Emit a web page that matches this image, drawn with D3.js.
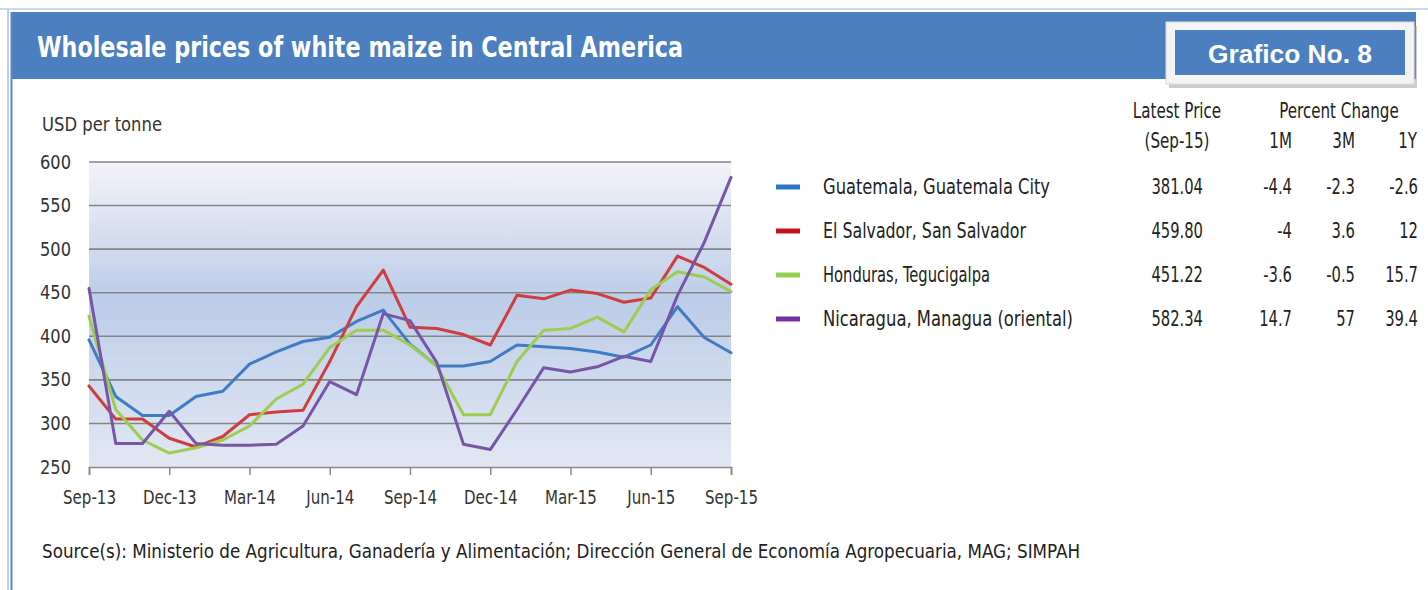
<!DOCTYPE html>
<html>
<head>
<meta charset="utf-8">
<script src="https://cdn.jsdelivr.net/npm/d3@7"></script>
<style>
  html, body { margin: 0; padding: 0; background: #ffffff; }
  svg { display: block; }
  text { font-family: "Liberation Sans Narrow", "DejaVu Sans Condensed", "Roboto", sans-serif; }
</style>
</head>
<body>
<svg id="chart" width="1428" height="590"></svg>
<script>
// ---------------- DATA ----------------
const months = ["Sep-13","Oct-13","Nov-13","Dec-13","Jan-14","Feb-14","Mar-14","Apr-14","May-14","Jun-14","Jul-14","Aug-14",
                "Sep-14","Oct-14","Nov-14","Dec-14","Jan-15","Feb-15","Mar-15","Apr-15","May-15","Jun-15","Jul-15","Aug-15","Sep-15"];
const guatemala  = [396,331,309,309,331,337,368,382,394,399,417,430,391,366,366,371,390,388,386,382,376,390,434,398.6,381.04];
const elSalvador = [343,305,305,283,273,285,310,313,315,371,434,476,410.5,409,402,390,447,443,453,449,439,444,492,479,459.8];
const honduras   = [423,316,281,266,272,281,297,328,345,387,407,407,390,366,310,310,371,407,409,422,405,453.5,474,468,451.22];
const nicaragua  = [455,277,277,314,277,275,275,276,297,348,333,426,418,370,276,270,316,364,359,365,377,371,447,507.7,582.34];

const seriesNames  = ["Guatemala, Guatemala City","El Salvador, San Salvador","Honduras, Tegucigalpa","Nicaragua, Managua (oriental)"];
const latestPrice  = ["381.04","459.80","451.22","582.34"];
const change1M     = ["-4.4","-4","-3.6","14.7"];
const change3M     = ["-2.3","3.6","-0.5","57"];
const change1Y     = ["-2.6","12","15.7","39.4"];
const yTicks       = [250,300,350,400,450,500,550,600];
const xTickIdx     = [0,3,6,9,12,15,18,21,24];

const titleText  = "Wholesale prices of white maize in Central America";
const badgeText  = "Grafico No. 8";
const yUnitText  = "USD per tonne";
const sourceText = "Source(s): Ministerio de Agricultura, Ganadería y Alimentación; Dirección General de Economía Agropecuaria, MAG; SIMPAH";

// ---------------- STYLE ----------------
const lineColors   = ["#3f7cc4","#cf3d3d","#9ccd4e","#7756a8"];
const swatchColors = ["#2b78c3","#c0141c","#92d050","#7232a0"];
const headerBlue = "#4b7fbf";

const svg = d3.select("#chart");

function fit(sel, w) { sel.attr("textLength", w).attr("lengthAdjust", "spacingAndGlyphs"); return sel; }
function condense(sel, f) {
  sel.each(function () {
    const w = this.getComputedTextLength();
    d3.select(this).attr("textLength", w * f).attr("lengthAdjust", "spacingAndGlyphs");
  });
  return sel;
}

// ---------------- FRAME ----------------
svg.append("line").attr("x1", 0).attr("x2", 1428).attr("y1", 9).attr("y2", 9)
   .attr("stroke", "#b9cbe4").attr("stroke-width", 1.5);
svg.append("rect").attr("x", 12).attr("y", 12).attr("width", 1404).attr("height", 67).attr("fill", headerBlue);
svg.append("line").attr("x1", 8).attr("x2", 8).attr("y1", 9).attr("y2", 590)
   .attr("stroke", "#a9bfdf").attr("stroke-width", 1.5);
svg.append("line").attr("x1", 11.5).attr("x2", 11.5).attr("y1", 12).attr("y2", 590)
   .attr("stroke", "#5b87c2").attr("stroke-width", 2);

fit(svg.append("text").attr("x", 37).attr("y", 57)
   .attr("fill", "#ffffff").attr("font-size", 29).attr("font-weight", "bold")
   .text(titleText), 646);

// badge
svg.append("rect").attr("x", 1169).attr("y", 26).attr("width", 248).attr("height", 62).attr("fill", "#9a9a9a").attr("opacity", 0.5);
svg.append("rect").attr("x", 1166).attr("y", 22).attr("width", 248).attr("height", 62).attr("fill", "#f4f4f4")
   .attr("stroke", "#dcdcdc").attr("stroke-width", 1);
svg.append("rect").attr("x", 1175).attr("y", 30).attr("width", 230).attr("height", 45).attr("fill", headerBlue);
fit(svg.append("text").attr("x", 1208).attr("y", 63)
   .attr("fill", "#ffffff").attr("font-size", 25).attr("font-weight", "bold")
   .style("font-family", "'Liberation Sans', Arial, sans-serif")
   .text(badgeText), 164);

// ---------------- PLOT ----------------
const x = d3.scaleLinear().domain([0, months.length - 1]).range([89, 731]);
const y = d3.scaleLinear().domain([250, 600]).range([467, 162]);

const defs = svg.append("defs");
const grad = defs.append("linearGradient").attr("id", "bg").attr("x1", 0).attr("x2", 0).attr("y1", 0).attr("y2", 1);
grad.append("stop").attr("offset", "0%").attr("stop-color", "#f3f3f9");
grad.append("stop").attr("offset", "45%").attr("stop-color", "#bccde8");
grad.append("stop").attr("offset", "100%").attr("stop-color", "#e2e8f3");

svg.append("rect").attr("x", x(0)).attr("y", y(600)).attr("width", x(24) - x(0)).attr("height", y(250) - y(600))
   .attr("fill", "url(#bg)");

// gridlines
svg.append("g").selectAll("line").data(yTicks.filter(d => d > 250)).join("line")
   .attr("x1", x(0)).attr("x2", x(24)).attr("y1", d => y(d)).attr("y2", d => y(d))
   .attr("stroke", "#858585").attr("stroke-width", 1.6);

// y axis labels
const yAxis = svg.append("g").attr("transform", `translate(71,0)`)
   .call(d3.axisLeft(y).tickValues(yTicks).tickSize(0).tickPadding(0));
yAxis.select(".domain").remove();
condense(yAxis.selectAll("text").attr("font-size", 19).attr("fill", "#333").style("font-family", null), 0.95);

// x axis
const xAxis = svg.append("g").attr("transform", `translate(0,${y(250)})`)
   .call(d3.axisBottom(x).tickValues(xTickIdx).tickFormat(i => months[i]).tickSize(8).tickPadding(16));
xAxis.select(".domain").attr("stroke", "#8a8a8a").attr("stroke-width", 1.6);
xAxis.selectAll(".tick line").attr("stroke", "#8a8a8a").attr("stroke-width", 1.5);
condense(xAxis.selectAll("text").attr("font-size", 19).attr("fill", "#333").style("font-family", null), 0.88);

fit(svg.append("text").attr("x", 42).attr("y", 131).attr("font-size", 19).attr("fill", "#333").text(yUnitText), 120);

// lines
const allSeries = [guatemala, elSalvador, honduras, nicaragua];
const line = d3.line().x((d, i) => x(i)).y(d => y(d));
svg.append("g").selectAll("path").data(allSeries).join("path")
   .attr("d", d => line(d)).attr("fill", "none")
   .attr("stroke", (d, i) => lineColors[i]).attr("stroke-width", 3)
   .attr("stroke-linejoin", "round").attr("stroke-linecap", "round");

// ---------------- LEGEND / TABLE ----------------
const rowY = [187, 231, 275, 319];
const tcol = "#222";
const tf = 0.8;
const hdr = svg.append("g");
condense(hdr.append("text").attr("x", 1177).attr("y", 118).attr("text-anchor", "middle").attr("font-size", 21).attr("fill", tcol).text("Latest Price"), tf);
condense(hdr.append("text").attr("x", 1177).attr("y", 148).attr("text-anchor", "middle").attr("font-size", 21).attr("fill", tcol).text("(Sep-15)"), tf);
condense(hdr.append("text").attr("x", 1339).attr("y", 118).attr("text-anchor", "middle").attr("font-size", 21).attr("fill", tcol).text("Percent Change"), tf);
condense(hdr.append("text").attr("x", 1292).attr("y", 148).attr("text-anchor", "end").attr("font-size", 21).attr("fill", tcol).text("1M"), tf);
condense(hdr.append("text").attr("x", 1355).attr("y", 148).attr("text-anchor", "end").attr("font-size", 21).attr("fill", tcol).text("3M"), tf);
condense(hdr.append("text").attr("x", 1417).attr("y", 148).attr("text-anchor", "end").attr("font-size", 21).attr("fill", tcol).text("1Y"), tf);

const labelW = [227, 203, 167, 250];
const rows = svg.append("g").selectAll("g").data(seriesNames).join("g")
   .attr("transform", (d, i) => `translate(0,${rowY[i]})`);
rows.append("line").attr("x1", 776).attr("x2", 800).attr("y1", 0).attr("y2", 0)
   .attr("stroke", (d, i) => swatchColors[i]).attr("stroke-width", 5);
rows.append("text").attr("x", 823).attr("y", 7).attr("font-size", 21).attr("fill", tcol).text(d => d)
   .attr("textLength", (d, i) => labelW[i]).attr("lengthAdjust", "spacingAndGlyphs");
condense(rows.append("text").attr("x", 1203).attr("y", 7).attr("text-anchor", "end").attr("font-size", 21).attr("fill", tcol).text((d, i) => latestPrice[i]), 0.78);
condense(rows.append("text").attr("x", 1292).attr("y", 7).attr("text-anchor", "end").attr("font-size", 21).attr("fill", tcol).text((d, i) => change1M[i]), 0.78);
condense(rows.append("text").attr("x", 1355).attr("y", 7).attr("text-anchor", "end").attr("font-size", 21).attr("fill", tcol).text((d, i) => change3M[i]), 0.78);
condense(rows.append("text").attr("x", 1418).attr("y", 7).attr("text-anchor", "end").attr("font-size", 21).attr("fill", tcol).text((d, i) => change1Y[i]), 0.78);

// source
fit(svg.append("text").attr("x", 42).attr("y", 558).attr("font-size", 20).attr("fill", "#222").text(sourceText), 1038);
</script>
</body>
</html>
